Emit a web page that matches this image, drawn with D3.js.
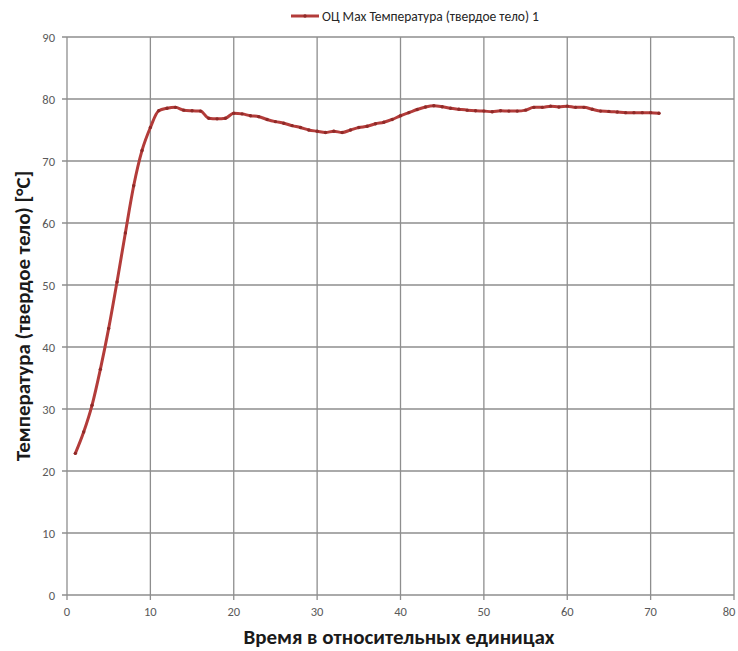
<!DOCTYPE html>
<html>
<head>
<meta charset="utf-8">
<script src="https://cdn.jsdelivr.net/npm/d3@7"></script>
<style>
body { margin:0; background:#fff; }
svg text { font-family: Carlito, "Open Sans", "Liberation Sans", sans-serif; }
</style>
</head>
<body>
<div id="vis"></div>
<script>
// data
var xs = [1,2,3,4,5,6,7,8,9,10,11,12,13,14,15,16,17,18,19,20,21,22,23,24,25,26,27,28,29,30,31,32,33,34,35,36,37,38,39,40,41,42,43,44,45,46,47,48,49,50,51,52,53,54,55,56,57,58,59,60,61,62,63,64,65,66,67,68,69,70,71];
var temps = [22.85,26.3,30.6,36.4,43.0,50.5,58.4,66.0,71.7,75.4,78.1,78.5,78.65,78.2,78.1,78.05,76.9,76.8,76.9,77.7,
             77.6,77.3,77.15,76.7,76.35,76.1,75.7,75.4,75.0,74.8,74.6,74.8,74.6,75.0,75.4,75.6,76.0,76.25,76.7,77.3,
             77.8,78.3,78.7,78.9,78.75,78.5,78.35,78.2,78.1,78.05,77.95,78.1,78.05,78.05,78.2,78.65,78.65,78.85,78.7,78.85,
             78.65,78.65,78.35,78.05,78.0,77.9,77.8,77.8,77.8,77.8,77.7];
var xTicks = [0,10,20,30,40,50,60,70,80];
var yTicks = [0,10,20,30,40,50,60,70,80,90];
var seriesName = "ОЦ Max Температура (твердое тело) 1";
var xTitle = "Время в относительных единицах";
var yTitle = "Температура (твердое тело) [°C]";

var W = 738, H = 651;
var svg = d3.select("#vis").append("svg").attr("width", W).attr("height", H);

var x = d3.scaleLinear().domain([0,80]).range([67,734]);
var y = d3.scaleLinear().domain([0,90]).range([595,37]);
var gridCol = "#8e8e8e";

// grid lines
svg.selectAll("line.hg").data(yTicks).enter().append("line")
    .attr("x1", x(0)-5).attr("x2", x(80))
    .attr("y1", d => y(d)).attr("y2", d => y(d))
    .attr("stroke", gridCol).attr("stroke-width", 1.3);
svg.selectAll("line.vg").data(xTicks).enter().append("line")
    .attr("x1", d => x(d)).attr("x2", d => x(d))
    .attr("y1", y(90)).attr("y2", y(0)+5)
    .attr("stroke", gridCol).attr("stroke-width", 1.3);

// tick labels
svg.selectAll("text.yl").data(yTicks).enter().append("text")
    .text(d => d).attr("x", 55).attr("y", d => y(d)+4.5)
    .attr("text-anchor","end").attr("font-size", 12.5).attr("fill", "#595959");
svg.selectAll("text.xl").data(xTicks).enter().append("text")
    .text(d => d).attr("x", d => Math.min(x(d), 729)).attr("y", 616)
    .attr("text-anchor","middle").attr("font-size", 12.5).attr("fill", "#595959");

// axis titles
svg.append("text").text(xTitle).attr("x", 399).attr("y", 644)
    .attr("text-anchor","middle").attr("font-size", 21).attr("font-weight","bold").attr("fill","#1a1a1a");
svg.append("text").text(yTitle)
    .attr("transform", "translate(30," + 316 + ") rotate(-90)")
    .attr("text-anchor","middle").attr("font-size", 21).attr("font-weight","bold").attr("fill","#1a1a1a");

// series
var pts = xs.map((v,i) => [v, temps[i]]);
var lineCol = "#b33c3a";
svg.append("path").datum(pts)
    .attr("d", d3.line().x(d => x(d[0])).y(d => y(d[1])).curve(d3.curveMonotoneX))
    .attr("fill","none").attr("stroke", lineCol).attr("stroke-width", 3)
    .attr("stroke-linejoin","round").attr("stroke-linecap","round");
svg.selectAll("circle.m").data(pts).enter().append("circle")
    .attr("cx", d => x(d[0])).attr("cy", d => y(d[1])).attr("r", 1.7)
    .attr("fill", "#8f2a28");

// legend
svg.append("line").attr("x1", 291).attr("x2", 319).attr("y1", 16).attr("y2", 16)
    .attr("stroke", lineCol).attr("stroke-width", 3);
svg.append("circle").attr("cx", 305).attr("cy", 16).attr("r", 1.7).attr("fill", "#8f2a28");
svg.append("text").text(seriesName).attr("x", 322).attr("y", 20.5)
    .attr("font-size", 13.5).attr("fill", "#262626");
</script>
</body>
</html>
